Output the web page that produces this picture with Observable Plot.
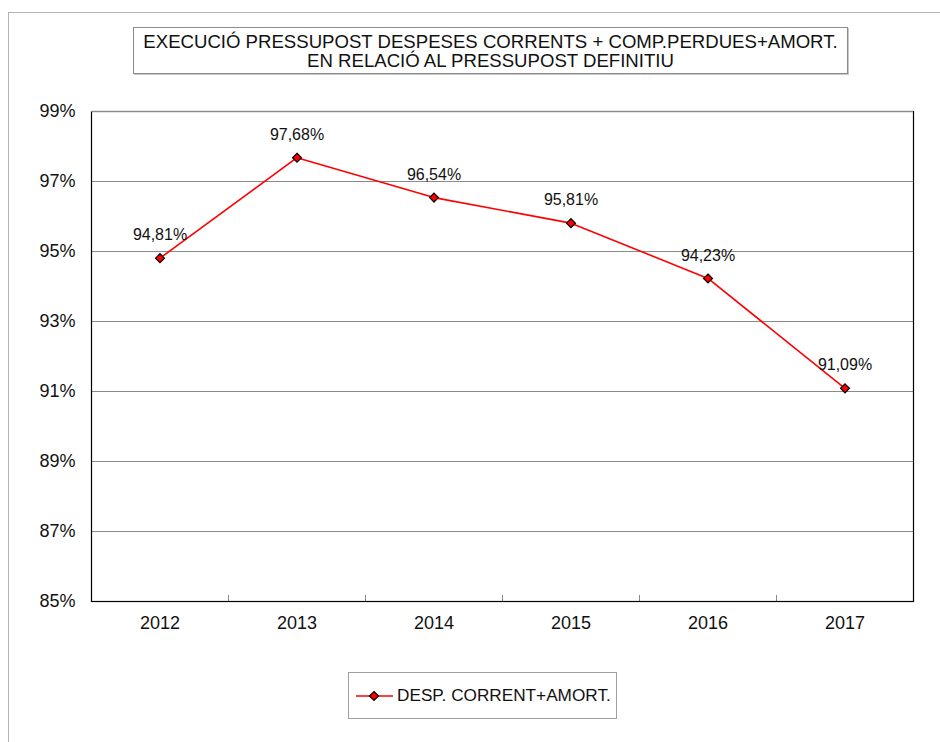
<!DOCTYPE html>
<html>
<head>
<meta charset="utf-8">
<script src="https://cdn.jsdelivr.net/npm/d3@7"></script>
<script src="https://cdn.jsdelivr.net/npm/@observablehq/plot@0.6"></script>
<style>
  html, body { margin: 0; padding: 0; background: #fff; }
  body { width: 940px; height: 742px; overflow: hidden; position: relative; font-family: Arial, "Liberation Sans", sans-serif; }
  #outer { position: absolute; left: 8px; top: 12px; width: 960px; height: 760px; border-left: 1.5px solid #b4b4b4; border-top: 1.5px solid #b4b4b4; }
  #title { position: absolute; left: 133px; top: 27px; width: 715px; height: 47px; border: 1px solid #8c8c8c; box-shadow: 1px 1px 0 #c8c8c8;
           text-align: center; font-size: 18.6px; line-height: 19px; padding-top: 4px; box-sizing: border-box; color: #111; white-space: nowrap; }
  #chart { position: absolute; left: 0; top: 90px; }
  #legend { position: absolute; left: 348px; top: 672px; width: 269px; height: 47px; border: 1px solid #a0a0a0; box-sizing: border-box;
            display: flex; align-items: center; font-size: 17.2px; color: #111; white-space: nowrap; }
  #legend svg { margin-left: 7px; margin-right: 4px; }
</style>
</head>
<body>
<div id="outer"></div>
<div id="title">EXECUCIÓ PRESSUPOST DESPESES CORRENTS + COMP.PERDUES+AMORT.<br>EN RELACIÓ AL PRESSUPOST DEFINITIU</div>
<div id="chart"></div>
<div id="legend"></div>
<script>
const years = ["2012", "2013", "2014", "2015", "2016", "2017"];
const values = [94.81, 97.68, 96.54, 95.81, 94.23, 91.09];
const yTicks = [85, 87, 89, 91, 93, 95, 97, 99];
const seriesName = "DESP. CORRENT+AMORT.";

const data = years.map((y, i) => ({year: y, value: values[i]}));
const fmt = v => v.toFixed(2).replace(".", ",") + "%";

const W = 940, H = 560, mL = 91, mR = 27, mT = 21, mB = 49;
const bw = (W - mL - mR) / years.length;

const chart = Plot.plot({
  width: W, height: H,
  marginLeft: mL, marginRight: mR, marginTop: mT, marginBottom: mB,
  style: {fontFamily: "Arial, 'Liberation Sans', sans-serif", fontSize: "18px", color: "#111", background: "transparent"},
  x: {type: "band", domain: years, padding: 0, label: null},
  y: {domain: [85, 99], label: null},
  marks: [
    Plot.ruleY(yTicks, {stroke: "#8a8a8a", strokeWidth: 1}),
    Plot.ruleX(years.slice(1), {y1: 85, y2: 85 + 6 / 35, dx: -bw / 2, stroke: "#888", strokeWidth: 1}),
    Plot.axisY({ticks: yTicks, tickSize: 0, tickPadding: 16, tickFormat: d => d + "%", fontSize: 18}),
    Plot.axisX({tickSize: 0, tickPadding: 15, fontSize: 18}),
    Plot.frame({stroke: "#000", strokeWidth: 1.2}),
    Plot.ruleY([99], {stroke: "#8a8a8a", strokeWidth: 1.2}),
    Plot.line(data, {x: "year", y: "value", stroke: "#ff0000", strokeWidth: 1.6}),
    Plot.dot(data, {x: "year", y: "value", symbol: "diamond2", r: 4, fill: "#ff0000", stroke: "#000", strokeWidth: 1.2}),
    Plot.text(data, {x: "year", y: "value", text: d => fmt(d.value), dy: -23, fontSize: 16, fill: "#111"})
  ]
});
document.getElementById("chart").appendChild(chart);

// legend
const lg = d3.select("#legend");
const sw = lg.append("svg").attr("width", 37).attr("height", 14);
sw.append("line").attr("x1", 0).attr("x2", 37).attr("y1", 7).attr("y2", 7).attr("stroke", "#ff0000").attr("stroke-width", 1.6);
sw.append("path").attr("d", "M18,2.5L22.5,7L18,11.5L13.5,7Z").attr("fill", "#ff0000").attr("stroke", "#000").attr("stroke-width", 1.2);
lg.append("span").text(seriesName);
</script>
</body>
</html>
